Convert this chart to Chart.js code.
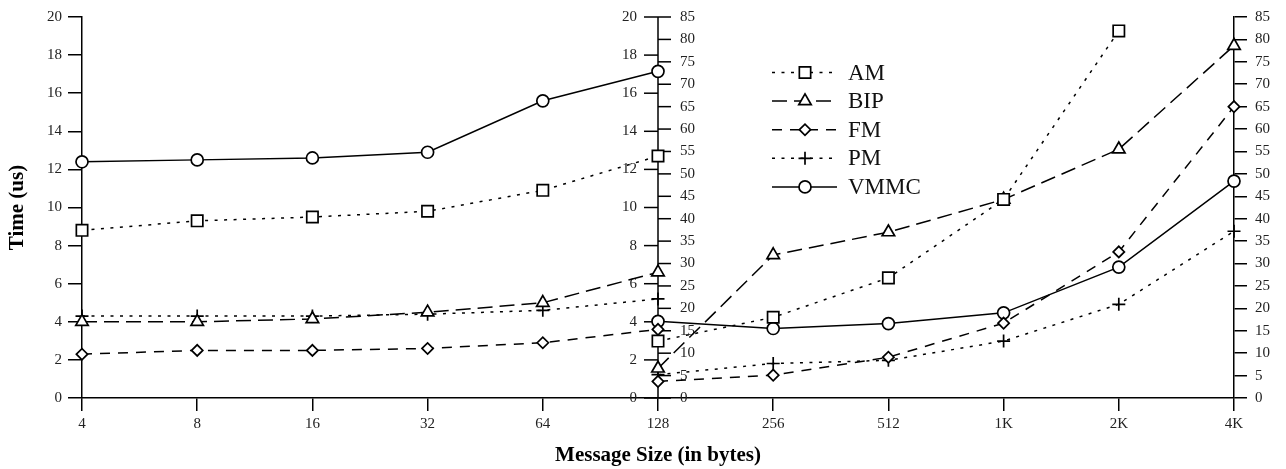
<!DOCTYPE html>
<html>
<head>
<meta charset="utf-8">
<script src="https://cdn.jsdelivr.net/npm/chart.js@4.4.0/dist/chart.umd.min.js"></script>
<style>
  html, body { margin: 0; padding: 0; background: #fff; }
  #wrap { width: 1286px; height: 469px; }
</style>
</head>
<body>
<div id="wrap"><canvas id="msgChart"></canvas></div>
<script>
const sizes = ['4', '8', '16', '32', '64', '128', '256', '512', '1K', '2K', '4K'];
const splitAt = '128';

// small messages, left scale (us, 0-20): 4 .. 128
const amSmall = [8.8, 9.3, 9.5, 9.8, 10.9, 12.7];
const bipSmall = [4.0, 4.0, 4.15, 4.5, 5.0, 6.6];
const fmSmall = [2.3, 2.5, 2.5, 2.6, 2.9, 3.6];
const pmSmall = [4.3, 4.3, 4.3, 4.4, 4.6, 5.2];
const vmmcSmall = [12.4, 12.5, 12.6, 12.9, 15.6, 17.15];

// large messages, right scale (us, 0-85): 128 .. 4K
const amLarge = [12.7, 18.0, 26.8, 44.3, 81.9, null];
const bipLarge = [6.6, 31.9, 37.0, 44.3, 55.5, 78.6];
const fmLarge = [3.7, 5.1, 9.1, 16.7, 32.6, 65.0];
const pmLarge = [5.2, 7.7, 8.4, 12.7, 20.9, 37.2];
const vmmcLarge = [17.1, 15.5, 16.6, 19.0, 29.2, 48.4];

const leftRange = { min: 0, max: 20, step: 2 };
const rightRange = { min: 0, max: 85, step: 5 };

const serif = 'Liberation Serif';
const ink = '#000';

const series = [
  { name: 'AM', small: amSmall, large: amLarge, dash: [3, 6.5], style: 'rect', r: 8 },
  { name: 'BIP', small: bipSmall, large: bipLarge, dash: [15, 7], style: 'triangle', r: 7.2 },
  { name: 'FM', small: fmSmall, large: fmLarge, dash: [10, 8], style: 'rectRot', r: 5.6 },
  { name: 'PM', small: pmSmall, large: pmLarge, dash: [3, 6.5], style: 'cross', r: 6.5 },
  { name: 'VMMC', small: vmmcSmall, large: vmmcLarge, dash: [], style: 'circle', r: 6 }
];

const cut = sizes.indexOf(splitAt);
const padRight = arr => arr.concat(Array(sizes.length - arr.length).fill(null));
const padLeft = arr => Array(cut).fill(null).concat(arr);

function makeSet(s, data, axis, inLegend) {
  return {
    label: s.name,
    data: data,
    yAxisID: axis,
    showInLegend: inLegend,
    borderColor: ink,
    borderWidth: 1.5,
    borderDash: s.dash,
    fill: false,
    tension: 0,
    spanGaps: false,
    pointStyle: s.style,
    pointRadius: s.r,
    pointBorderWidth: 1.7,
    pointBorderColor: ink,
    pointBackgroundColor: '#fff',
    clip: false
  };
}

const datasets = [];
series.forEach(s => datasets.push(makeSet(s, padRight(s.small), 'yL', true)));
series.forEach(s => datasets.push(makeSet(s, padLeft(s.large), 'yR', false)));

// the shared axis at 128: 0-20 ticks on its left, 0-85 ticks on its right
const middleAxis = {
  id: 'middleAxis',
  beforeDatasetsDraw(chart) {
    const { ctx, chartArea, scales } = chart;
    const mx = scales.x.getPixelForValue(cut);
    ctx.save();
    ctx.strokeStyle = ink;
    ctx.lineWidth = 1.5;
    ctx.beginPath();
    ctx.moveTo(mx, chartArea.top);
    ctx.lineTo(mx, chartArea.bottom);
    ctx.stroke();
    ctx.font = '15px "' + serif + '"';
    ctx.fillStyle = '#222';
    ctx.textBaseline = 'middle';
    scales.yL.ticks.forEach(t => {
      const py = scales.yL.getPixelForValue(t.value);
      ctx.beginPath();
      ctx.moveTo(mx - 14, py);
      ctx.lineTo(mx, py);
      ctx.stroke();
      ctx.textAlign = 'right';
      ctx.fillText(t.label, mx - 21, py);
    });
    scales.yR.ticks.forEach(t => {
      const py = scales.yR.getPixelForValue(t.value);
      ctx.beginPath();
      ctx.moveTo(mx, py);
      ctx.lineTo(mx + 13, py);
      ctx.stroke();
      ctx.textAlign = 'left';
      ctx.fillText(t.label, mx + 22, py);
    });
    ctx.restore();
  }
};

// legend: dashed line sample with the marker in the middle
const lineLegend = {
  id: 'lineLegend',
  afterDatasetsDraw(chart) {
    const { ctx, chartArea } = chart;
    const x0 = chartArea.left + 690;
    const y0 = chartArea.top + 55.5;
    const rowH = 28.6;
    chart.data.datasets.filter(d => d.showInLegend).forEach((ds, i) => {
      const y = y0 + i * rowH;
      ctx.save();
      ctx.strokeStyle = ink;
      ctx.lineWidth = ds.borderWidth;
      ctx.setLineDash(ds.borderDash);
      ctx.beginPath();
      ctx.moveTo(x0, y);
      ctx.lineTo(x0 + 65, y);
      ctx.stroke();
      ctx.setLineDash([]);
      ctx.fillStyle = '#fff';
      ctx.lineWidth = ds.pointBorderWidth;
      Chart.helpers.drawPoint(ctx, { pointStyle: ds.pointStyle, radius: ds.pointRadius, borderWidth: ds.pointBorderWidth, rotation: 0 }, x0 + 33, y);
      ctx.fillStyle = '#111';
      ctx.font = '23px "' + serif + '"';
      ctx.textAlign = 'left';
      ctx.textBaseline = 'middle';
      ctx.fillText(ds.label, x0 + 76, y + 1);
      ctx.restore();
    });
  }
};

const tickGrid = len => ({ drawOnChartArea: false, drawTicks: true, tickLength: len, color: ink, lineWidth: 1.5 });
const axisBorder = { display: true, color: ink, width: 1.5 };
const tickFont = { family: serif, size: 15 };
const titleFont = { family: serif, size: 21, weight: 'bold' };

new Chart(document.getElementById('msgChart'), {
  type: 'line',
  data: { labels: sizes, datasets: datasets },
  options: {
    responsive: true,
    maintainAspectRatio: false,
    animation: false,
    layout: { padding: { top: 14, left: 0, right: 0, bottom: 0 } },
    plugins: { legend: { display: false }, tooltip: { enabled: false } },
    scales: {
      x: {
        type: 'category',
        offset: false,
        grid: tickGrid(13),
        border: axisBorder,
        ticks: { color: '#222', font: tickFont, padding: 4, maxRotation: 0, autoSkip: false },
        title: { display: true, text: 'Message Size (in bytes)', color: ink, font: titleFont, padding: { top: 0, bottom: 1 } },
        afterFit: s => { s.height = 71; }
      },
      yL: {
        type: 'linear',
        position: 'left',
        min: leftRange.min,
        max: leftRange.max,
        grid: tickGrid(14),
        border: axisBorder,
        ticks: { stepSize: leftRange.step, color: '#222', font: tickFont, padding: 6, autoSkip: false },
        title: { display: true, text: 'Time (us)', color: ink, font: titleFont, padding: { top: 5, bottom: 0 } },
        afterFit: s => { s.width = 82; }
      },
      yR: {
        type: 'linear',
        position: 'right',
        min: rightRange.min,
        max: rightRange.max,
        grid: tickGrid(13),
        border: axisBorder,
        ticks: { stepSize: rightRange.step, color: '#222', font: tickFont, padding: 8, autoSkip: false },
        afterFit: s => { s.width = 52; }
      }
    }
  },
  plugins: [middleAxis, lineLegend]
});
</script>
</body>
</html>
